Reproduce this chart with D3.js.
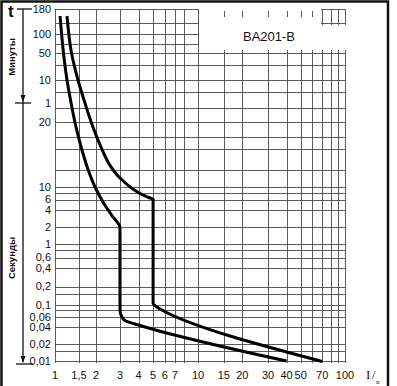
<!DOCTYPE html>
<html>
<head>
<meta charset="utf-8">
<script src="https://cdn.jsdelivr.net/npm/d3@7"></script>
<style>
  body { margin: 0; background: #fff; }
  .grid { stroke: #4a4a4a; stroke-width: 0.9; shape-rendering: crispEdges; }
  .curve { fill: none; stroke: #000; stroke-width: 3; stroke-linejoin: round; }
  .lbl { font-family: "Liberation Sans", Arial, sans-serif; font-size: 11px; fill: #111; }
</style>
</head>
<body>
<div class="container"></div>
<script>
const WIDTH = 397;
const HEIGHT = 386;

// multiples of rated current I/In
var xTickValues = [1, 1.5, 2, 3, 4, 5, 6, 7, 10, 15, 20, 30, 40, 50, 70, 100];
var xTickLabels = ["1", "1,5", "2", "3", "4", "5", "6", "7", "10", "15", "20", "30", "40", "50", "70", "100"];
var xGridValues = [1, 1.5, 2, 3, 4, 5, 6, 7, 8, 10, 15, 20, 30, 40, 50, 60, 70, 80, 90, 100];

// trip time in seconds (upper part of the axis is in minutes)
var yTickValues = [10800, 6000, 3000, 600, 60, 20, 10, 6, 4, 2, 1, 0.6, 0.4, 0.2, 0.1, 0.06, 0.04, 0.02, 0.01];
var yTickLabels = ["180", "100", "50", "10", "1", "20", "10", "6", "4", "2", "1", "0,6", "0,4", "0,2", "0,1", "0,06", "0,04", "0,02", "0,01"];
var yGridValues = [0.01, 0.015, 0.02, 0.04, 0.06, 0.08, 0.1, 0.15, 0.2, 0.4, 0.6, 0.8, 1, 2, 4, 6, 8, 10,
  12, 15, 17, 20, 45, 180, 600, 1500, 3000, 4200, 6000, 7800, 10800];

// lower (min) characteristic
var minI = [1.09, 1.154, 1.225, 1.3, 1.414, 1.579, 1.777, 1.966, 2.25, 2.598, 3, 3, 3.09, 3.28, 3.78, 40];
var minT = [9160, 3000, 600, 81, 19.4, 14.8, 11.7, 10, 5.46, 3.23, 1.91, 0.0814, 0.061, 0.0518, 0.0458, 0.01];
// upper (max) characteristic
var maxI = [1.225, 1.322, 1.475, 1.633, 1.885, 2.176, 2.533, 3, 3.666, 4.279, 4.767, 5, 5, 5.3, 5.73, 70];
var maxT = [9160, 3000, 600, 81, 19.2, 15.3, 12.6, 11, 9.22, 7.24, 6.41, 6.16, 0.108, 0.092, 0.0814, 0.0098];

var translate = function(x, y){
  return "translate(" + x + "," + y + ")";
};

var loadChart = function(){
  var svg = d3.select('.container').append('svg')
    .attr('width', WIDTH)
    .attr('height', HEIGHT);

  // the printed scale is not a clean log scale, so piecewise
  var xScale = d3.scaleLog()
    .domain([1, 3, 10, 100])
    .range([55, 120, 198, 345]);

  var yScale = d3.scaleLog()
    .domain([0.01, 0.1, 1, 10, 20, 60, 600, 3000, 6000, 10800])
    .range([361, 305, 244, 187, 122, 103, 80, 53, 34, 9]);

  var x0 = xScale(1), x1 = xScale(100);
  var y0 = yScale(0.01), y1 = yScale(10800);

  svg.append('rect')
    .attr('x', 1.5).attr('y', 1.5)
    .attr('width', 386.5).attr('height', 390)
    .attr('fill', 'none').attr('stroke', '#111').attr('stroke-width', 2.5);

  var g = svg.append('g');

  g.selectAll('.vgrid')
    .data(xGridValues)
    .enter().append('line')
    .classed('grid', true)
    .attr('x1', function(d){ return Math.round(xScale(d)) + 0.5; })
    .attr('x2', function(d){ return Math.round(xScale(d)) + 0.5; })
    .attr('y1', y1).attr('y2', y0 + 2);

  g.selectAll('.hgrid')
    .data(yGridValues)
    .enter().append('line')
    .classed('grid', true)
    .attr('x1', x0).attr('x2', x1)
    .attr('y1', function(d){ return Math.round(yScale(d)) + 0.5; })
    .attr('y2', function(d){ return Math.round(yScale(d)) + 0.5; });

  // white label box over the grid
  g.append('rect').attr('x', 199).attr('y', 25).attr('width', 148).attr('height', 25).attr('fill', '#fff');
  g.append('rect').attr('x', 199).attr('y', 17).attr('width', 122).attr('height', 9).attr('fill', '#fff');
  g.append('rect').attr('x', 199).attr('y', 6).attr('width', 122).attr('height', 5).attr('fill', '#fff');
  g.append('text')
    .attr('x', 243).attr('y', 41)
    .style('font-family', '"Liberation Sans", Arial, sans-serif')
    .style('font-size', '13px')
    .attr('fill', '#111')
    .text('BA201-B');

  var line = d3.line()
    .x(function(d){ return xScale(d[0]); })
    .y(function(d){ return yScale(d[1]); })
    .curve(d3.curveMonotoneY);

  g.append('path')
    .classed('curve', true)
    .attr('d', line(d3.zip(minI, minT)));
  g.append('path')
    .classed('curve', true)
    .attr('d', line(d3.zip(maxI, maxT)));

  // tick labels
  svg.selectAll('.xlbl')
    .data(xTickValues)
    .enter().append('text')
    .classed('lbl', true)
    .attr('x', function(d){ return xScale(d); })
    .attr('y', 379)
    .attr('text-anchor', 'middle')
    .text(function(d, i){ return xTickLabels[i]; });

  svg.selectAll('.ylbl')
    .data(yTickValues)
    .enter().append('text')
    .classed('lbl', true)
    .attr('x', 51)
    .attr('y', function(d){ return yScale(d); })
    .attr('dy', '0.35em')
    .attr('text-anchor', 'end')
    .text(function(d, i){ return yTickLabels[i]; });

  // time axis with minutes / seconds brackets
  var ax = svg.append('g').attr('stroke', '#111').attr('stroke-width', 1.3);
  ax.append('line').attr('x1', 23).attr('x2', 23).attr('y1', yScale(10800)).attr('y2', 362);
  ax.append('line').attr('x1', 17).attr('x2', 32).attr('y1', yScale(10800)).attr('y2', yScale(10800));
  ax.append('line').attr('x1', 15).attr('x2', 31).attr('y1', yScale(60)).attr('y2', yScale(60));
  ax.append('line').attr('x1', 16).attr('x2', 33).attr('y1', 364).attr('y2', 364);
  var arrow = function(yTip, dir){
    svg.append('path')
      .attr('d', 'M' + 23 + ',' + yTip + 'L' + 20.5 + ',' + (yTip - 7 * dir) + 'L' + 25.5 + ',' + (yTip - 7 * dir) + 'Z')
      .attr('fill', '#111');
  };
  arrow(yScale(60) - 1, 1);
  arrow(363, 1);

  svg.append('text')
    .attr('x', 8).attr('y', 17)
    .style('font-family', '"Liberation Sans", Arial, sans-serif')
    .style('font-size', '17px').style('font-weight', 'bold')
    .attr('fill', '#111')
    .text('t');

  svg.append('text')
    .attr('transform', translate(15, 57) + ' rotate(-90)')
    .attr('text-anchor', 'middle')
    .style('font-family', '"Liberation Sans", Arial, sans-serif')
    .style('font-size', '9.5px').style('font-weight', 'bold')
    .attr('fill', '#111')
    .text('Минуты');

  svg.append('text')
    .attr('transform', translate(15, 258) + ' rotate(-90)')
    .attr('text-anchor', 'middle')
    .style('font-family', '"Liberation Sans", Arial, sans-serif')
    .style('font-size', '9.5px').style('font-weight', 'bold')
    .attr('fill', '#111')
    .text('Секунды');

  // I / In
  svg.append('text')
    .attr('x', 366).attr('y', 379)
    .style('font-family', '"Liberation Serif", serif')
    .style('font-size', '13px')
    .attr('fill', '#111')
    .text('I');
  svg.append('text')
    .attr('x', 372).attr('y', 379)
    .style('font-family', '"Liberation Serif", serif')
    .style('font-size', '12px')
    .attr('fill', '#111')
    .text('/');
  svg.append('text')
    .attr('x', 376).attr('y', 384)
    .style('font-family', '"Liberation Serif", serif')
    .style('font-size', '7px')
    .attr('fill', '#111')
    .text('n');
};
window.onload = loadChart;
</script>
</body>
</html>
